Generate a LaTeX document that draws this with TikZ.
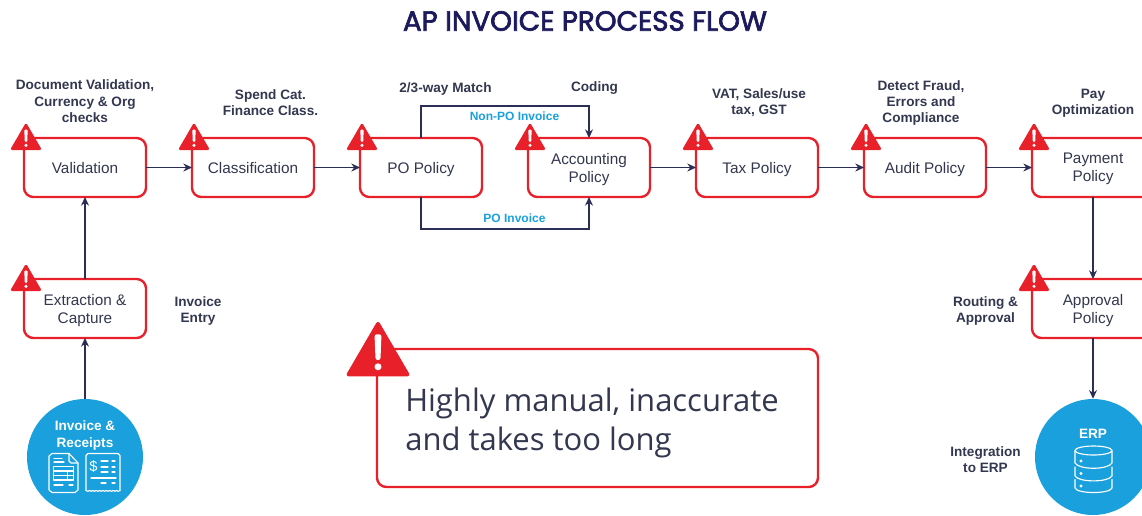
\documentclass[tikz,border=0pt]{standalone}
\usepackage{fontspec}
\setmainfont{Liberation Sans}
\newfontfamily\headfont[FakeBold=2.5]{Poppins}
\newfontfamily\notefont{Open Sans}
\usepackage{xcolor}
\usetikzlibrary{arrows.meta}
\usetikzlibrary{calc}
\definecolor{alertred}{HTML}{E8202A}
\definecolor{flowink}{HTML}{2B2F55}
\definecolor{labelink}{HTML}{33374F}
\definecolor{poolblue}{HTML}{1AA0DC}
\definecolor{headnavy}{HTML}{1C1A5C}
\tikzset{
	policy/.style={draw=alertred,fill=white,line width=1.8pt,rounded corners=7pt,minimum width=91.5pt,minimum height=44.25pt,align=center,text=labelink,font=\fontsize{11.5}{13.5}\selectfont,inner sep=0pt,outer sep=0pt,text depth=0pt},
	stage/.style={text=labelink,align=center,font=\bfseries\fontsize{10.2}{12.3}\selectfont,inner sep=0pt},
	route/.style={text=poolblue,font=\bfseries\fontsize{9}{10}\selectfont,inner sep=0pt},
	flow/.style={draw=flowink,line width=.9pt,-{Stealth[length=6.5pt,width=6pt]}},
	pool/.style={circle,fill=poolblue,minimum size=87pt,inner sep=0pt},
	poolname/.style={text=white,align=center,font=\bfseries\fontsize{10.2}{12.3}\selectfont,inner sep=0pt},
	icon/.style={draw=white,line width=.85pt,line cap=round,line join=round},
	warnsign/.pic={
		\fill [alertred,rounded corners=#1*1.3pt] (2-16*#1,12*#1) -- (2,-15.5*#1) -- (2+16*#1,12*#1) -- cycle;
		\fill [white,rounded corners=#1*.8pt] (2-1.7*#1,-8.5*#1) -- (2+1.7*#1,-8.5*#1) -- (2+1.2*#1,4*#1) -- (2-1.2*#1,4*#1) -- cycle;
		\fill [white] (2,7.3*#1) circle (1.7*#1);
	}
}
\begin{document}
\begin{tikzpicture}[x=.75pt,y=-.75pt]
	
	\useasboundingbox (0,0) rectangle (1142,515);
	\clip (0,0) rectangle (1142,515);
	
	\node [text=headnavy,font=\headfont\fontsize{20.8}{24}\selectfont,inner sep=0pt] (title) at (585,21) {AP INVOICE PROCESS FLOW};
	
	% top row
	\node [policy] (validation) at (85,167.5) {Validation};
	\node [policy] (classification) at (253,167.5) {Classification};
	\node [policy] (popolicy) at (421,167.5) {PO Policy};
	\node [policy] (accounting) at (589,167.5) {Accounting\\Policy};
	\node [policy] (taxpolicy) at (757,167.5) {Tax Policy};
	\node [policy] (auditpolicy) at (925,167.5) {Audit Policy};
	\node [policy] (payment) at (1093,167.5) {Payment\\Policy};
	
	% side columns
	\node [policy] (extraction) at (85,308.5) {Extraction \&\\Capture};
	\node [policy] (approval) at (1093,308.5) {Approval\\Policy};
	\node [pool] (invoices) at (85,457) {};
	\node [pool] (erp) at (1093,457) {};
	
	\node [policy,minimum width=330.75pt,minimum height=103.5pt] (callout) at (597.5,418) {};
	\node [anchor=west,align=left,text=labelink,font=\notefont\fontsize{23.25}{29}\selectfont,inner sep=0pt] (calloutnote) at (405,423) {Highly manual, inaccurate\\and takes too long};
	
	\draw [flow] (invoices) -- (extraction);
	\draw [flow] (extraction) -- (validation);
	\draw [flow] (validation) -- (classification);
	\draw [flow] (classification) -- (popolicy);
	\draw [flow] (accounting) -- (taxpolicy);
	\draw [flow] (taxpolicy) -- (auditpolicy);
	\draw [flow] (auditpolicy) -- (payment);
	\draw [flow] (payment) -- (approval);
	\draw [flow] (approval) -- (erp);
	
	\coordinate (nonpobend) at (505,106);
	\coordinate (pobend) at (505,229);
	\draw [flow] (popolicy.north) |- (nonpobend) -| (accounting.north);
	\draw [flow] (popolicy.south) |- (pobend) -| (accounting.south);
	
	\node [route] (nonpo) at (514.5,116) {Non-PO Invoice};
	\node [route] (poinvoice) at (514.5,218) {PO Invoice};
	
	\node [stage] (checks) at (85,101.5) {Document Validation,\\Currency \& Org\\checks};
	\node [stage] (spend) at (270.5,102.5) {Spend Cat.\\Finance Class.};
	\node [stage] (match) at (445.5,88.5) {2/3-way Match};
	\node [stage] (coding) at (594.5,88.5) {Coding};
	\node [stage] (vat) at (759,102.5) {VAT, Sales/use\\tax, GST};
	\node [stage] (fraud) at (921,103) {Detect Fraud,\\Errors and\\Compliance};
	\node [stage] (optimize) at (1093,103.5) {Pay\\Optimization};
	\node [stage] (entry) at (198,311) {Invoice\\Entry};
	\node [stage] (routing) at (985.5,311) {Routing \&\\Approval};
	\node [stage] (integration) at (985.5,459.5) {Integration\\to ERP};
	
	\pic at (validation.north west) {warnsign=1};
	\pic at (classification.north west) {warnsign=1};
	\pic at (popolicy.north west) {warnsign=1};
	\pic at (accounting.north west) {warnsign=1};
	\pic at (taxpolicy.north west) {warnsign=1};
	\pic at (auditpolicy.north west) {warnsign=1};
	\pic at (payment.north west) {warnsign=1};
	\pic at (extraction.north west) {warnsign=1};
	\pic at (approval.north west) {warnsign=1};
	\pic at ($(callout.north west)+(-1,2.8)$) {warnsign=2.05};
	
	% invoice and receipt icons
	\node [poolname] (invoicename) at (85,435.5) {Invoice \&\\Receipts};
	\draw [icon] (69,453.5) -- (52,453.5) -- (49,456) -- (49,490) -- (52,492.5) -- (75,492.5) -- (78,490) -- (78,463) -- cycle;
	\draw [icon] (69,453.5) -- (69,461) -- (71,463) -- (78,463);
	\draw [icon] (54,458.5) -- (62,458.5) (54,462) -- (64,462);
	\draw [icon] (53.5,466.5) rectangle (73.5,480) (53.5,471) -- (73.5,471) (53.5,475.5) -- (73.5,475.5) (67.5,471) -- (67.5,480);
	\draw [icon] (54,485) -- (63,485) (69,485) -- (73,485);
	
	\draw [icon] (86,490.5) -- (86,455.5) -- (88,453.5) -- (118,453.5) -- (120,455.5) -- (120,490.5);
	\foreach \x in {86,89.4,...,117} {
		\draw [icon] (\x,490.5) to [bend right=50] (\x+3.4,490.5);
	}
	\node [text=white,font=\fontsize{11}{12}\selectfont,inner sep=0pt] (dollar) at (93.5,467) {\$};
	\draw [icon] (101,461) -- (108,461) (112,461) -- (115,461);
	\draw [icon] (101,467) -- (108,467) (112,467) -- (115,467);
	\draw [icon] (101,472) -- (108,472) (112,472) -- (115,472);
	\draw [icon] (91,478) -- (116,478);
	\draw [icon] (101,483) -- (106,483) (112,483) -- (115,483);
	
	% database icon
	\node [poolname] (erpname) at (1093,434) {ERP};
	\draw [icon] (1093.5,450.5) ellipse (18.5 and 4.5);
	\draw [icon] (1075,450.5) -- (1075,463) .. controls (1079,470) and (1108,470) .. (1112,463) -- (1112,450.5);
	\draw [icon] (1075,467) -- (1075,476) .. controls (1079,482.5) and (1108,482.5) .. (1112,476) -- (1112,467);
	\draw [icon] (1075,479.5) -- (1075,488) .. controls (1077,494) and (1110,494) .. (1112,488) -- (1112,479.5);
	\fill [white] (1081,461) circle (1.6) (1081,473.5) circle (1.6) (1081,486) circle (1.6);
	
\end{tikzpicture}
\end{document}
